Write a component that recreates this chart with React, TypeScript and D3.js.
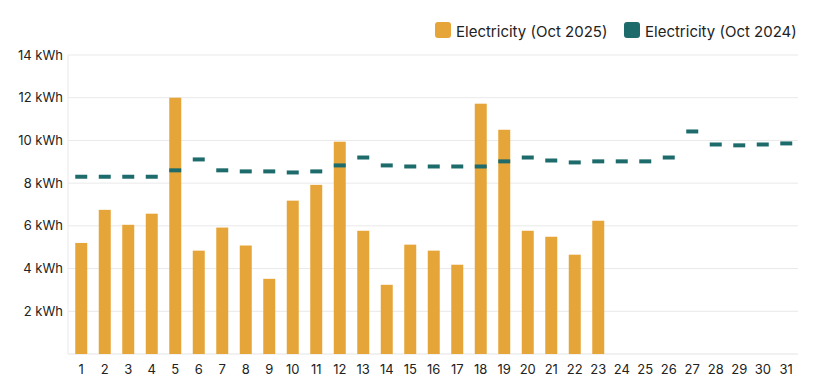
import React from "react";
import * as d3 from "d3";

const days: string[] = Array.from({ length: 31 }, (_, i) => String(i + 1));
const usage2025: number[] = [5.2, 6.75, 6.05, 6.57, 12.0, 4.84, 5.92, 5.08, 3.52, 7.18, 7.92, 9.94, 5.77, 3.24, 5.12, 4.84, 4.18, 11.72, 10.5, 5.77, 5.49, 4.65, 6.24];
const usage2024: number[] = [8.3, 8.3, 8.3, 8.3, 8.6, 9.11, 8.6, 8.55, 8.55, 8.5, 8.55, 8.83, 9.2, 8.83, 8.78, 8.78, 8.78, 8.78, 9.02, 9.2, 9.06, 8.97, 9.02, 9.02, 9.02, 9.2, 10.42, 9.81, 9.77, 9.81, 9.86];
const yTicks: number[] = [2, 4, 6, 8, 10, 12, 14];
const legendLabels: string[] = ["Electricity (Oct 2025)", "Electricity (Oct 2024)"];

const W = 817;
const H = 388;
const margin = { left: 69.5, right: 19, top: 55, bottom: 34 };
const ORANGE = "#E6A539";
const TEAL = "#1E6B6C";
const FONT = "Inter, 'Noto Sans', sans-serif";

export default function App() {
  const x = d3
    .scaleBand<string>()
    .domain(days)
    .range([margin.left, W - margin.right])
    .paddingInner(0.49)
    .paddingOuter(0.245);
  const y = d3.scaleLinear().domain([0, 14]).range([H - margin.bottom, margin.top]);
  const bw = x.bandwidth();
  const axisX = 68;

  return (
    <svg width={W} height={H} style={{ position: "absolute", left: 0, top: 0, background: "#fff" }}>
      {yTicks.map((t) => (
        <line key={"g" + t} x1={axisX} x2={W - margin.right} y1={y(t)} y2={y(t)} stroke="#e9e9e9" strokeWidth={1} />
      ))}
      <line x1={axisX} x2={W - margin.right} y1={y(0)} y2={y(0)} stroke="#e3e3e3" strokeWidth={1} />
      <line x1={axisX} x2={axisX} y1={y(14)} y2={y(0)} stroke="#e9e9e9" strokeWidth={1} />
      {yTicks.map((t) => (
        <text key={"yl" + t} x={63} y={y(t)} dy="0.35em" textAnchor="end" fontFamily={FONT} fontSize={13} fill="#222">
          {t} kWh
        </text>
      ))}
      {usage2025.map((v, i) => (
        <rect key={"b" + i} x={x(days[i])!} y={y(v)} width={bw} height={y(0) - y(v)} fill={ORANGE} />
      ))}
      {usage2024.map((v, i) => (
        <rect key={"d" + i} x={x(days[i])!} y={y(v) - 2} width={bw} height={4} fill={TEAL} />
      ))}
      {days.map((d) => (
        <text key={"xl" + d} x={x(d)! + bw / 2} y={374} textAnchor="middle" fontFamily={FONT} fontSize={13} fill="#222">
          {d}
        </text>
      ))}
      <g>
        <rect x={435} y={22} width={16} height={16} rx={3} fill={ORANGE} />
        <text x={456} y={36.5} fontFamily={FONT} fontSize={15} fill="#222">{legendLabels[0]}</text>
        <rect x={624} y={22} width={16} height={16} rx={3} fill={TEAL} />
        <text x={645} y={36.5} fontFamily={FONT} fontSize={15} fill="#222">{legendLabels[1]}</text>
      </g>
    </svg>
  );
}
